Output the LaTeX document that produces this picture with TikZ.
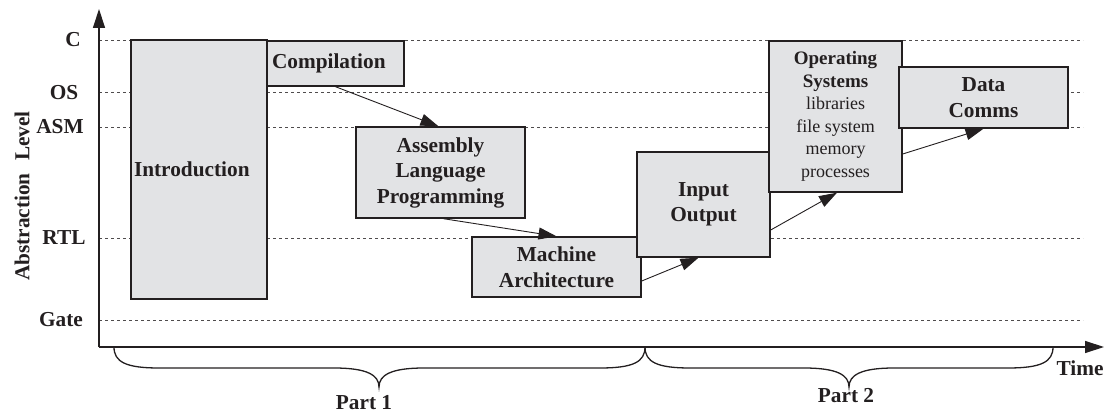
\documentclass[tikz,border=0pt]{standalone}
\usepackage{fontspec}
\setmainfont{Liberation Serif}
\usetikzlibrary{arrows.meta}
\definecolor{boxfill}{HTML}{E2E3E5}
\definecolor{ink}{HTML}{231F20}
\begin{document}
\begin{tikzpicture}[x=1pt,y=-1pt,
 box/.style={draw=ink, line width=1.4pt, fill=boxfill, inner sep=0pt, align=center,
   font=\fontsize{21.3}{25.5}\selectfont\bfseries, text=ink},
 lvl/.style={font=\fontsize{21.3}{25}\selectfont\bfseries, text=ink, inner sep=0pt},
 guide/.style={draw=ink!80, line width=0.8pt, dash pattern=on 3pt off 3pt},
 flow/.style={draw=ink, line width=0.9pt, -{Triangle[length=18pt,width=12pt]}},
 axis/.style={draw=ink, line width=1.2pt, -{Triangle[length=19pt,width=12pt]}},
 brace/.style={draw=ink, line width=1.3pt},
]
\useasboundingbox (0,0) rectangle (1105,414);
% level guides
\foreach \yy in {40,92,127,238,320} \draw[guide] (99,\yy) -- (1083,\yy);
% level labels
\node[lvl] (lc) at (73,40) {C};
\node[lvl] (los) at (64,93) {OS};
\node[lvl] (lasm) at (60,127) {ASM};
\node[lvl] (lrtl) at (64,238) {RTL};
\node[lvl] (lgate) at (61,320) {Gate};
\node[lvl, rotate=90] (labs) at (22,227) {Abstraction};
\node[lvl, rotate=90] (llev) at (22,136) {Level};
% axes
\coordinate (o) at (99,347);
\coordinate (ytip) at (99,9);
\coordinate (xtip) at (1104,347);
\draw[axis] (o) -- (ytip);
\draw[axis] (o) -- (xtip);
% boxes
\node[box, minimum width=136, minimum height=259, text width=130, inner xsep=3, align=left] (intro) at (199,169.5) {Introduction};
\node[box, minimum width=137, minimum height=45, text width=127, inner xsep=5, align=left] (comp) at (335.5,63.5) {Compilation};
\node[box, minimum width=169, minimum height=91] (alp) at (440.5,172.5) {Assembly\\Language\\Programming};
\node[box, minimum width=169, minimum height=60] (mach) at (556.5,267) {Machine\\Architecture};
\node[box, minimum width=133, minimum height=105] (io) at (703.5,204.5) {Input\\Output};
\node[box, minimum width=133, minimum height=151, font=\fontsize{18}{22.5}\selectfont\mdseries] (os) at (835.5,116.5)
  {{\fontsize{19}{22.5}\selectfont\bfseries Operating}\\{\fontsize{19}{22.5}\selectfont\bfseries Systems}\\libraries\\file system\\memory\\processes};
\node[box, minimum width=169, minimum height=61] (dc) at (983.5,97.5) {Data\\Comms};
% flow arrows
\draw[flow] (comp.south) -- ([xshift=-2pt]alp.north);
\draw[flow] ([xshift=3pt]alp.south) -- (mach.north);
\draw[flow] ([yshift=-14pt]mach.east) -- ([xshift=-5pt]io.south);
\draw[flow] ([yshift=-25.5pt]io.east) -- ([xshift=1.5pt]os.south);
\draw[flow] ([yshift=-37.5pt]os.east) -- (dc.south);
% braces
\draw[brace] (114,347) .. controls (114,362) and (126,368) .. (159,368) -- (334,368)
  .. controls (367,368) and (379,375) .. (379,387)
  .. controls (379,375) and (391,368) .. (424,368) -- (600,368)
  .. controls (633,368) and (645,362) .. (645,347);
\draw[brace] (645,347) .. controls (645,362) and (657,368) .. (690,368) -- (804,368)
  .. controls (837,368) and (849,375) .. (849,387)
  .. controls (849,375) and (861,368) .. (894,368) -- (1008,368)
  .. controls (1041,368) and (1053,362) .. (1053,347);
\node[lvl] (p1) at (364,403) {Part 1};
\node[lvl] (p2) at (846,396) {Part 2};
\node[lvl] (time) at (1080,368) {Time};
\end{tikzpicture}
\end{document}
